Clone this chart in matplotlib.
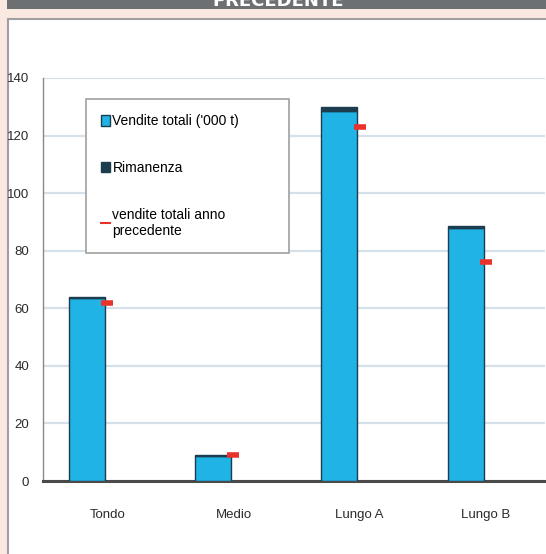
import matplotlib.pyplot as plt
from matplotlib.patches import Rectangle, Patch
from matplotlib.lines import Line2D

plt.rcParams['font.family'] = ['Liberation Sans Narrow', 'Liberation Sans', 'DejaVu Sans']

# dati
categorie = ['Tondo', 'Medio', 'Lungo A', 'Lungo B']
vendite_totali = [63.5, 8.7, 128.5, 88.0]
rimanenza = [0.5, 0.3, 1.5, 0.5]
vendite_anno_prec = [62, 9, 123, 76]
yticks = [0, 20, 40, 60, 80, 100, 120, 140]

fig = plt.figure(figsize=(5.46, 5.54), dpi=100)
fig.patch.set_facecolor('#f9e9e1')

# banda del titolo in alto
fig.patches.append(Rectangle((7 / 546, 1 - 9 / 554), 1, 9 / 554, transform=fig.transFigure,
                             facecolor='#6d7072', edgecolor='none', zorder=-2))
fig.text(0.51, 1 - 6 / 554, 'PRECEDENTE', color='white', fontsize=13, fontweight='bold',
         ha='center', va='baseline', family='DejaVu Sans')
# pannello bianco
fig.patches.append(Rectangle((8 / 546, -0.01), 1, 1 - 19 / 554 + 0.01, transform=fig.transFigure,
                             facecolor='white', edgecolor='#a0a0a4', lw=1.5, zorder=-2))

ax = fig.add_axes([43 / 546, 73 / 554, 502 / 546, 403 / 554])
ax.set_facecolor('none')
x = list(range(len(categorie)))
w = 0.285

ax.bar(x, vendite_totali, w, color='#1fb3e6', edgecolor='#1b3d4d', lw=1.0, zorder=3)
ax.bar(x, rimanenza, w, bottom=vendite_totali, color='#1b3d4d', edgecolor='#1b3d4d',
       lw=1.0, zorder=3)
ax.plot([i + 0.16 for i in x], vendite_anno_prec, ls='none', marker='_', ms=8, mew=4,
        color='#e8322b', zorder=4)

ax.set_xlim(-0.35, 3.63)
ax.set_ylim(0, 140)
ax.set_yticks(yticks)
ax.set_xticks([i + 0.16 for i in x])
ax.set_xticklabels(categorie)
ax.tick_params(axis='both', length=0, labelsize=9.5, colors='#2a2a2a')
ax.tick_params(axis='y', pad=10)
ax.tick_params(axis='x', pad=20)
ax.grid(axis='y', color='#d6e0e8', lw=1.6, zorder=0)
for s in ['top', 'right']:
    ax.spines[s].set_visible(False)
ax.spines['left'].set_color('#8a8a8a')
ax.spines['left'].set_linewidth(1.0)
ax.spines['bottom'].set_color('#4a4a4a')
ax.spines['bottom'].set_linewidth(2.2)

handles = [Patch(facecolor='#1fb3e6', edgecolor='#1b3d4d'),
           Patch(facecolor='#1b3d4d', edgecolor='#1b3d4d'),
           Line2D([], [], color='#e8322b', lw=1.5)]
labels = ["Vendite totali ('000 t)", 'Rimanenza', 'vendite totali anno\nprecedente']
leg = ax.legend(handles, labels, loc='upper left', bbox_to_anchor=(0.0857, 0.0, 0.404, 0.948),
                mode='expand', fontsize=10, handlelength=0.6, handleheight=0.8,
                handletextpad=0.2, labelspacing=2.35, borderpad=1.1, borderaxespad=0,
                fancybox=False, edgecolor='#a0a0a0', framealpha=1)
leg.get_frame().set_linewidth(1.2)

fig.savefig('out.png', dpi=100, facecolor=fig.get_facecolor())
